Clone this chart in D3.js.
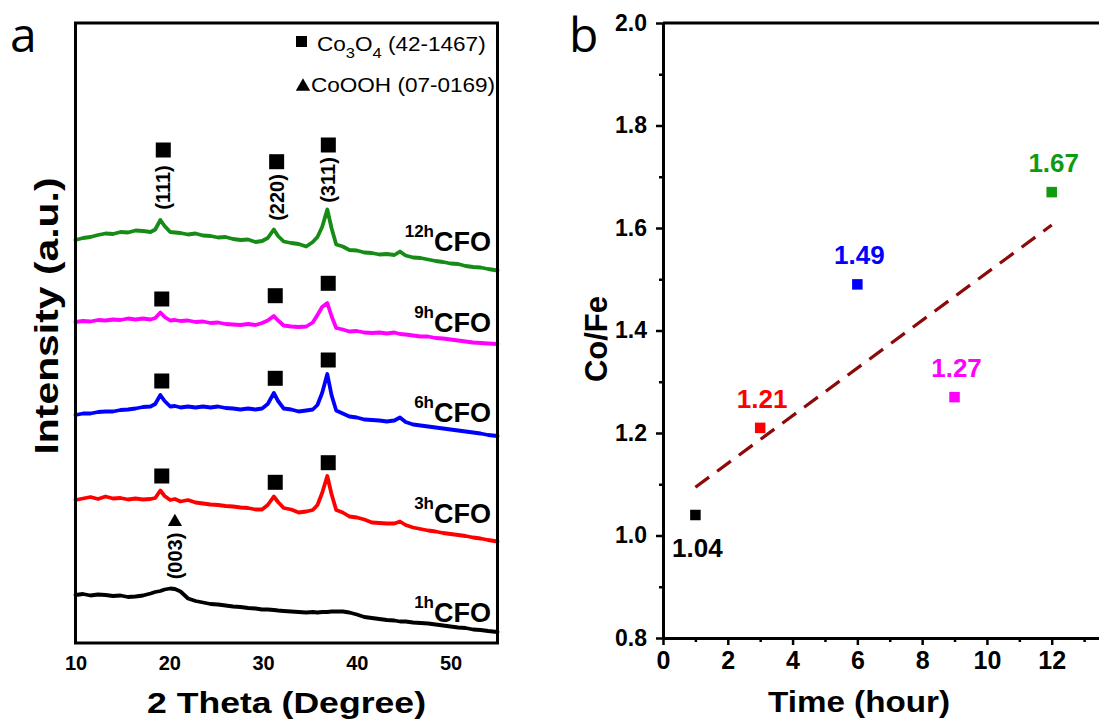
<!DOCTYPE html>
<html>
<head>
<meta charset="utf-8">
<script src="https://cdn.jsdelivr.net/npm/d3@7"></script>
<style>
  html, body { margin: 0; padding: 0; background: #ffffff; }
  svg { display: block; }
  svg text { font-family: "Liberation Sans", Arial, Helvetica, sans-serif; }
  svg text.panel { font-family: "Open Sans", "DejaVu Sans", sans-serif; }
</style>
</head>
<body>
<svg id="fig" width="1099" height="723"></svg>
<script>
// ---------- Panel a: XRD patterns ----------
const twoTheta = [10, 10.8, 11.6, 12.4, 13.2, 14, 14.8, 15.6, 16.4, 17.2,
  18, 18.5, 19.05, 19.5, 20.1, 20.6, 21.2, 22, 22.8, 23.6,
  24.4, 25.2, 26, 26.8, 27.6, 28.4, 29.2, 29.9, 30.5, 31.15,
  31.6, 32.2, 33, 33.8, 34.6, 35.3, 35.8, 36.3, 36.85, 37.3,
  37.8, 38.5, 39.2, 40, 40.8, 41.6, 42.4, 43.2, 44, 44.6,
  45.2, 46, 46.8, 47.6, 48.4, 49.2, 50, 50.8, 51.6, 52.4,
  53.2, 54, 55];

// stacked intensities (a.u., offset per sample)
const int1h = [48, 49, 47.5, 48.5, 48, 47, 47.5, 46, 46.5, 47.5,
  49.5, 51, 52, 53.5, 54.5, 54, 51.5, 44.5, 42, 40.5,
  39, 38.5, 37.5, 36.5, 36, 35, 34.5, 33.5, 33.5, 33,
  32.5, 32, 31.5, 31, 30.5, 31, 30.5, 31, 31, 31.5,
  31.5, 31.5, 30.5, 28.5, 26, 25, 24, 23, 22.5, 21.5,
  21.5, 20.5, 20, 19.5, 18.5, 17.5, 16.5, 15.5, 15, 13.5,
  13, 12, 11];
const int3h = [143, 144.5, 146, 144, 146.5, 144.5, 145, 143.5, 144.5, 143.5,
  144, 145, 152.5, 147, 143, 144, 141.5, 143, 140.5, 139.5,
  138.5, 138, 137, 136.5, 135.5, 135, 133.5, 133.5, 138, 146.5,
  141, 135, 133.5, 130.5, 131.5, 133, 138, 150, 167, 149,
  133, 130.5, 126.5, 125.5, 123.5, 120.5, 120, 119.5, 119.5, 121.5,
  118, 115.5, 114, 112.5, 111.5, 110, 109, 108, 107, 105.5,
  104.5, 103, 101.5];
const int6h = [228, 229.5, 229.5, 231, 231.5, 231.5, 233, 233.5, 234.5, 236,
  236.5, 239, 248, 242, 236.5, 237, 235.5, 236.5, 235.5, 236.5,
  235.5, 236.5, 235, 234.5, 233.5, 234.5, 233.5, 234.5, 239, 250,
  242, 234.5, 233.5, 231.5, 232.5, 233.5, 238, 250, 269, 248,
  232.5, 229.5, 226.5, 225.5, 223.5, 223, 222.5, 221.5, 222.5, 225.5,
  221, 218.5, 217.5, 216.5, 215.5, 214.5, 213.5, 212.5, 211.5, 210.5,
  209.5, 208, 207];
const int9h = [321, 322, 321.5, 323, 322.5, 323.5, 323, 324.5, 323.5, 324.5,
  323.5, 325, 330.5, 326, 322.5, 323, 322, 322.5, 321, 321.5,
  320, 320.5, 319, 318.5, 318, 319, 318, 320, 322.5, 327,
  322.5, 317.5, 316.5, 316, 316.5, 320.5, 328, 336, 340, 327,
  315, 313.5, 311.5, 312, 310.5, 310, 310.5, 309.5, 310.5, 309,
  308.5, 307.5, 306.5, 306.5, 305, 304.5, 303.5, 302.5, 301.5, 300.5,
  300, 299.5, 299];
const int12h = [403, 405, 406, 408, 409.5, 409, 411, 410.5, 412.5, 412,
  411, 413.5, 423, 417, 411, 410.5, 410, 408.5, 409.5, 407.5,
  407, 405.5, 406, 404, 403, 403.5, 401, 402, 405, 413.5,
  407, 401.5, 400, 399, 396.5, 401, 406, 416, 433.5, 415,
  398.5, 396.5, 393, 392.5, 390.5, 390, 388.5, 389, 388, 391.5,
  387.5, 385.5, 385, 383.5, 382, 381, 379.5, 379, 377, 376,
  375.5, 374, 372.5];

const sampleHours = ["1h", "3h", "6h", "9h", "12h"];
const sampleSeries = [int1h, int3h, int6h, int9h, int12h];
const sampleColors = ["#000000", "#ff0000", "#0000ff", "#ff00ff", "#168c16"];
const sampleLabelLevel = [21.3, 119.7, 221.3, 311.3, 392.3];

// Co3O4 reflections and the heights of their square markers per sample
const co3o4Peaks = [19.2, 31.3, 36.95];
const co3o4Hkl = ["(111)", "(220)", "(311)"];
const markerLevels3h = [167, 160.7, 180.3];
const markerLevels6h = [262, 264.7, 283];
const markerLevels9h = [344, 347.3, 359.7];
const markerLevels12h = [493, 481.3, 498];
const hklLevels12h = [455.5, 445.5, 463];
const hklPos12h = [19.36, 31.45, 36.96];
// CoOOH (003) reflection in the 1 h sample
const coohPeak = [20.6];
const coohTriangleLevel = [121];
const coohLabelLevel = [87];

const xTicksA = [10, 20, 30, 40, 50];

// ---------- Panel b: Co/Fe ratio ----------
const hours = [1, 3, 6, 9, 12];
const coFe = [1.04, 1.21, 1.49, 1.27, 1.67];
const pointColors = ["#000000", "#ff0000", "#0000ff", "#ff00ff", "#109a10"];
const yMajorB = [0.8, 1.0, 1.2, 1.4, 1.6, 1.8, 2.0];
const yMinorB = [0.9, 1.1, 1.3, 1.5, 1.7, 1.9];
const xMajorB = [0, 2, 4, 6, 8, 10, 12];
const xMinorB = [1, 3, 5, 7, 9, 11, 13];

const svg = d3.select("#fig");

// ================= Panel a =================
const xA = d3.scaleLinear().domain([10, 55]).range([75.5, 497.5]);
const yA = d3.scaleLinear().domain([0, 620]).range([643, 23]);
const gA = svg.append("g");

const lineA = d3.line().x(d => xA(d[0])).y(d => yA(d[1]));
sampleSeries.forEach((vals, i) => {
  const pts = twoTheta.map((t, k) => [t, vals[k]]);
  gA.append("path")
    .datum(pts)
    .attr("d", lineA)
    .attr("fill", "none")
    .attr("stroke", sampleColors[i])
    .attr("stroke-width", 3.8)
    .attr("stroke-linejoin", "round")
    .attr("stroke-linecap", "round");
});

// frame
gA.append("rect")
  .attr("x", xA(10)).attr("y", yA(620))
  .attr("width", xA(55) - xA(10)).attr("height", yA(0) - yA(620))
  .attr("fill", "none").attr("stroke", "#000").attr("stroke-width", 3);

// x axis labels (no tick marks)
const axA = gA.append("g")
  .attr("transform", `translate(0,${yA(0)})`)
  .call(d3.axisBottom(xA).tickValues(xTicksA).tickSize(0).tickPadding(13));
axA.select(".domain").remove();
axA.attr("font-family", null).attr("font-size", 20).attr("font-weight", "bold");
axA.selectAll("text").attr("fill", "#000");

gA.append("text")
  .attr("x", (xA(10) + xA(55)) / 2).attr("y", 713)
  .attr("text-anchor", "middle")
  .attr("font-size", 30).attr("font-weight", "bold")
  .attr("textLength", 279).attr("lengthAdjust", "spacingAndGlyphs")
  .text("2 Theta (Degree)");

gA.append("text")
  .attr("transform", "translate(58,316) rotate(-90)")
  .attr("text-anchor", "middle")
  .attr("font-size", 34).attr("font-weight", "bold")
  .attr("textLength", 277).attr("lengthAdjust", "spacingAndGlyphs")
  .text("Intensity (a.u.)");

// square markers
const SQ = 15;
function squares(levels, xs) {
  gA.append("g").selectAll("rect")
    .data(levels.map((lv, k) => [xs[k], lv]))
    .join("rect")
    .attr("x", d => xA(d[0]) - SQ / 2)
    .attr("y", d => yA(d[1]) - SQ / 2)
    .attr("width", SQ).attr("height", SQ)
    .attr("fill", "#000");
}
squares(markerLevels3h, co3o4Peaks);
squares(markerLevels6h, co3o4Peaks);
squares(markerLevels9h, co3o4Peaks);
squares(markerLevels12h, hklPos12h);

// hkl labels for the 12 h pattern
gA.append("g").selectAll("text")
  .data(co3o4Hkl.map((h, k) => [hklPos12h[k], hklLevels12h[k], h]))
  .join("text")
  .attr("transform", d => `translate(${xA(d[0])},${yA(d[1])}) rotate(-90)`)
  .attr("text-anchor", "middle")
  .attr("dominant-baseline", "central")
  .attr("font-size", 20).attr("font-weight", "bold")
  .text(d => d[2]);

// CoOOH triangle and (003) label
const tri = d3.symbol(d3.symbolTriangle).size(88);
gA.append("path")
  .attr("d", tri())
  .attr("transform", `translate(${xA(coohPeak[0])},${yA(coohTriangleLevel[0])})`)
  .attr("fill", "#000");
gA.append("text")
  .attr("transform", `translate(${xA(coohPeak[0])},${yA(coohLabelLevel[0])}) rotate(-90)`)
  .attr("text-anchor", "middle")
  .attr("dominant-baseline", "central")
  .attr("font-size", 20).attr("font-weight", "bold")
  .text("(003)");

// sample labels: superscript time + CFO
sampleHours.forEach((h, i) => {
  const t = gA.append("text")
    .attr("x", 491).attr("y", yA(sampleLabelLevel[i]))
    .attr("text-anchor", "end")
    .attr("font-weight", "bold");
  t.append("tspan").attr("font-size", 17).attr("dy", -14).text(h);
  t.append("tspan").attr("font-size", 27).attr("dy", 14).text("CFO");
});

// legend
const lg = gA.append("g");
lg.append("rect").attr("x", 296).attr("y", 36).attr("width", 11).attr("height", 11).attr("fill", "#000");
const l1 = lg.append("text")
  .attr("transform", "translate(317,51) scale(1.1,1)")
  .attr("font-size", 20.5);
l1.append("tspan").text("Co");
l1.append("tspan").attr("font-size", 15).attr("dy", 7).text("3");
l1.append("tspan").attr("dy", -7).text("O");
l1.append("tspan").attr("font-size", 15).attr("dy", 7).text("4");
l1.append("tspan").attr("dy", -7).text(" (42-1467)");
lg.append("path")
  .attr("d", d3.symbol(d3.symbolTriangle).size(90)())
  .attr("transform", "translate(303,86.5)")
  .attr("fill", "#000");
lg.append("text")
  .attr("transform", "translate(311,92) scale(1.1,1)")
  .attr("font-size", 20.5)
  .text("CoOOH (07-0169)");

// panel letter
svg.append("text")
  .attr("class", "panel")
  .attr("x", 10).attr("y", 52)
  .attr("font-size", 48)
  .text("a");

// ================= Panel b =================
const xB = d3.scaleLinear().domain([0, 13.5]).range([663, 1100.3]);
const yB = d3.scaleLinear().domain([0.8, 2.0]).range([638, 23]);
const gB = svg.append("g");

// top frame line
gB.append("line")
  .attr("x1", xB(0)).attr("x2", xB(13.5))
  .attr("y1", yB(2.0)).attr("y2", yB(2.0))
  .attr("stroke", "#000").attr("stroke-width", 3);

function styleAxis(g, fontSize) {
  g.attr("font-family", null).attr("font-size", fontSize).attr("font-weight", "bold");
  g.selectAll("text").attr("fill", "#000");
  g.select(".domain").attr("stroke-width", 3);
  g.selectAll(".tick line").attr("stroke-width", 2.5);
}

// y axis
const yAx = gB.append("g").attr("transform", `translate(${xB(0)},0)`)
  .call(d3.axisLeft(yB).tickValues(yMajorB).tickSize(7).tickSizeOuter(0)
    .tickPadding(9).tickFormat(d3.format(".1f")));
styleAxis(yAx, 23);
const yMin = gB.append("g").attr("transform", `translate(${xB(0)},0)`)
  .call(d3.axisLeft(yB).tickValues(yMinorB).tickSize(4).tickFormat(""));
yMin.select(".domain").remove();
yMin.selectAll(".tick line").attr("stroke-width", 2.5);

// x axis
const xAx = gB.append("g").attr("transform", `translate(0,${yB(0.8)})`)
  .call(d3.axisBottom(xB).tickValues(xMajorB).tickSize(7).tickSizeOuter(0).tickPadding(6));
styleAxis(xAx, 25);
const xMin = gB.append("g").attr("transform", `translate(0,${yB(0.8)})`)
  .call(d3.axisBottom(xB).tickValues(xMinorB).tickSize(4).tickFormat(""));
xMin.select(".domain").remove();
xMin.selectAll(".tick line").attr("stroke-width", 2.5);

// axis titles
gB.append("text")
  .attr("x", 859).attr("y", 712)
  .attr("text-anchor", "middle")
  .attr("font-size", 30).attr("font-weight", "bold")
  .attr("textLength", 182).attr("lengthAdjust", "spacingAndGlyphs")
  .text("Time (hour)");
gB.append("text")
  .attr("transform", "translate(607,339) rotate(-90)")
  .attr("text-anchor", "middle")
  .attr("font-size", 31).attr("font-weight", "bold")
  .text("Co/Fe");

// least-squares trend line through the measured ratios
const mx = d3.mean(hours), my = d3.mean(coFe);
const slope = d3.sum(hours.map((h, i) => (h - mx) * (coFe[i] - my))) /
              d3.sum(hours.map(h => (h - mx) * (h - mx)));
const intercept = my - slope * mx;
const [h0, h1] = d3.extent(hours);
gB.append("path")
  .datum([h0, h1])
  .attr("d", d3.line().x(h => xB(h)).y(h => yB(intercept + slope * h)))
  .attr("fill", "none")
  .attr("stroke", "#8b0a0a")
  .attr("stroke-width", 3.2)
  .attr("stroke-dasharray", "17,10");

// points
const PS = 10.5;
gB.append("g").selectAll("rect")
  .data(hours.map((h, i) => [h, coFe[i], pointColors[i]]))
  .join("rect")
  .attr("x", d => xB(d[0]) - PS / 2)
  .attr("y", d => yB(d[1]) - PS / 2)
  .attr("width", PS).attr("height", PS)
  .attr("fill", d => d[2]);

// value labels (first one sits below its point)
gB.append("g").selectAll("text")
  .data(hours.map((h, i) => [h, coFe[i], pointColors[i], i]))
  .join("text")
  .attr("x", d => xB(d[0]) + 2)
  .attr("y", d => yB(d[1]) + (d[3] === 0 ? 42 : -20))
  .attr("text-anchor", "middle")
  .attr("font-size", 26).attr("font-weight", "bold")
  .attr("fill", d => d[2])
  .text(d => d3.format(".2f")(d[1]));

// panel letter
svg.append("text")
  .attr("class", "panel")
  .attr("x", 569).attr("y", 52)
  .attr("font-size", 48)
  .text("b");
</script>
</body>
</html>
